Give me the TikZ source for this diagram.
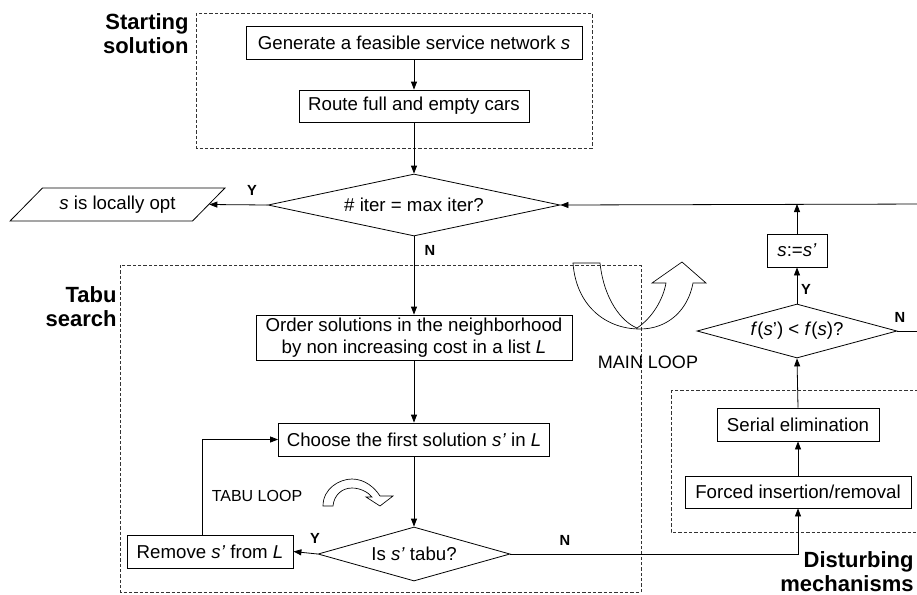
\documentclass[tikz,border=0pt]{standalone}
\usepackage{fontspec}
\setmainfont{Liberation Sans}
\usetikzlibrary{arrows.meta,positioning,shapes.geometric}

\begin{document}
\begin{tikzpicture}[x=0.75pt,y=-0.75pt, line width=0.6pt,
  procbox/.style={draw, font=\fontsize{14}{16}\selectfont, inner sep=1pt, align=center},
  decision/.style={draw, diamond, inner sep=0pt, font=\fontsize{14}{16}\selectfont},
  yesno/.style={font=\fontsize{11}{13}\bfseries\selectfont},
  grouptitle/.style={font=\fontsize{16.5}{18}\bfseries\selectfont, align=right},
  groupbox/.style={draw=black!80, dash pattern=on 2.5pt off 1.5pt, line width=0.5pt},
  flow/.style={-{Triangle[length=6pt,width=4.5pt]}}]
\useasboundingbox (0,0) rectangle (917,594);
\clip (0,0) rectangle (917,594);
% Groups
\draw[groupbox] (196,13) rectangle (592,148);
\draw[groupbox] (120,265) rectangle (641,592);
\draw[groupbox] (671,390) rectangle (930,532);
\node[grouptitle, anchor=north east, inner sep=0pt] (ttlstart) at (189,13) {Starting\\solution};
\node[grouptitle, anchor=north east, inner sep=0pt] (ttltabu) at (117,286) {Tabu\\search};
\node[grouptitle, anchor=south east, inner sep=0pt] (ttldist) at (914,592) {Disturbing\\mechanisms};
% Starting solution
\node[procbox, minimum width=252pt, minimum height=24.75pt] (gen) at (414,43) {Generate a feasible service network \textit{s}};
\node[procbox, minimum width=172.5pt, minimum height=24pt] (route) at (414,106) {Route full and empty cars};
% Main test
\node[decision, aspect=4.7, minimum width=219pt, minimum height=46.5pt] (mainq) at (414,205) {\# iter = max iter?};
\node[draw, trapezium, trapezium left angle=38, trapezium right angle=142, trapezium stretches=true,
  minimum width=161.25pt, minimum height=24.75pt, inner sep=1pt, font=\fontsize{14}{16}\selectfont] (opt) at (117.5,204.5) {\textit{s} is locally opt};
% Tabu search
\node[procbox, minimum width=237pt, minimum height=33.75pt] (order) at (414,337.5) {Order solutions in the neighborhood\\by non increasing cost in a list \textit{L}};
\node[procbox, minimum width=203.25pt, minimum height=24.75pt] (choose) at (414,439.5) {Choose the first solution \textit{s'} in \textit{L}};
\node[decision, aspect=3.56, minimum width=144pt, minimum height=40.5pt] (tabuq) at (414,554) {Is \textit{s'} tabu?};
\node[procbox, minimum width=124.5pt, minimum height=24.75pt] (remove) at (210,551.5) {Remove \textit{s'} from \textit{L}};
% Disturbing mechanisms
\node[procbox, minimum width=169.5pt, minimum height=24pt] (forced) at (798,492) {Forced insertion/removal};
\node[procbox, minimum width=121.5pt, minimum height=24.75pt] (serial) at (798,424.5) {Serial elimination};
\node[decision, aspect=3.7, minimum width=150pt, minimum height=40.5pt] (fq) at (797,331) {\textit{f}(\textit{s}') < \textit{f}(\textit{s})?};
\node[procbox, minimum width=45pt, minimum height=24.75pt] (assign) at (797,250.5) {\textit{s}:=\textit{s'}};
\coordinate (topright) at (930,204);
\coordinate (fqout) at (930,331);
% Connections
\draw[flow] (gen) -- (route);
\draw[flow] (route) -- (mainq);
\draw[flow] (mainq.west) -- (opt.east);
\draw[flow] (mainq.south) -- (order.north);
\draw[flow] (order) -- (choose);
\draw[flow] (choose.south) -- (tabuq.north);
\draw[flow] (tabuq.west) -- (remove.east);
\draw[flow] (remove.north -| 202,0) |- (choose.west);
\draw[flow] (tabuq.east) -| (forced.south);
\draw[flow] (forced) -- (serial);
\draw[flow] (serial.north) -- (fq.south);
\draw[flow] (fq.north) -- (assign.south);
\draw[flow] (assign.north) -- (assign.north |- topright);
\draw[flow] (topright) -- (mainq.east);
\draw (fq.east) -- (fqout);
% Y / N labels
\node[yesno] (y1) at (252,190) {Y};
\node[yesno] (n1) at (430,250) {N};
\node[yesno] (y2) at (315,538) {Y};
\node[yesno] (n2) at (565,540) {N};
\node[yesno] (y3) at (806,289) {Y};
\node[yesno] (n3) at (900,317) {N};
% Loop marks
\node[font=\fontsize{13.5}{15}\selectfont] (mainlbl) at (648,362) {MAIN LOOP};
\node[font=\fontsize{12}{14}\selectfont] (tabulbl) at (257,496) {TABU LOOP};
\draw[line width=0.5pt] (573,263) -- (600,263) .. controls (604,300) and (622,322) .. (637,328)
  .. controls (652,318) and (663,300) .. (666,283) -- (652,283) -- (682,262) -- (706,283) -- (693,283)
  .. controls (688,310) and (668,329) .. (640,329) .. controls (605,329) and (576,305) .. (573,263) -- cycle;
\draw[line width=0.5pt] (323,506) .. controls (323,488) and (340,479) .. (352,479)
  .. controls (365,479) and (375,488) .. (380,496) -- (393,496) -- (380,506) -- (366,497) -- (372,497)
  .. controls (368,492) and (360,488) .. (352,488) .. controls (342,488) and (334,495) .. (333,506) -- cycle;
\end{tikzpicture}
\end{document}
